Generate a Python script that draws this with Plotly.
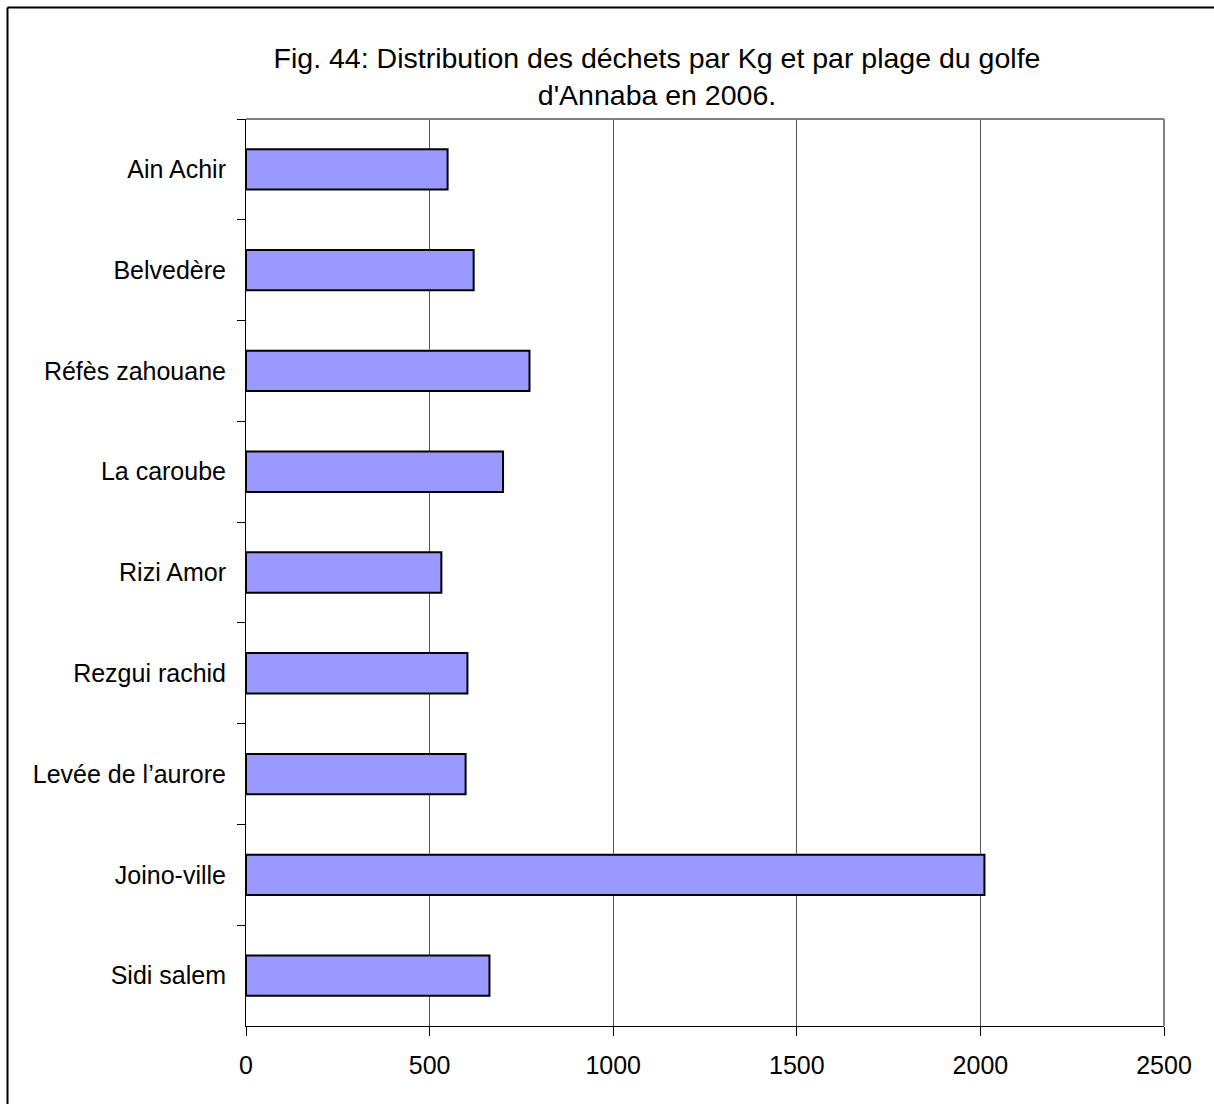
import plotly.graph_objects as go

categories = ["Ain Achir", "Belvedère", "Réfès zahouane", "La caroube", "Rizi Amor",
              "Rezgui rachid", "Levée de l’aurore", "Joino-ville", "Sidi salem"]
values = [549, 620, 772, 700, 532, 603, 598, 2011, 663]
x_ticks = [0, 500, 1000, 1500, 2000, 2500]
title_text = "Fig. 44: Distribution des déchets par Kg et par plage du golfe<br>d'Annaba en 2006."

W, H = 1214, 1104
L, R, T, B = 246, 1214 - 1164, 119, 1104 - 1026
pw, ph = W - L - R, H - T - B

def px(xp):
    return (xp - L) / pw

def py(yp):
    return (H - B - yp) / ph

fig = go.Figure(go.Bar(
    y=categories, x=values, orientation="h",
    marker=dict(color="#9999FF", line=dict(color="#000000", width=2)),
    width=0.4,
))

fig.update_layout(
    width=W, height=H,
    margin=dict(l=L, r=R, t=T, b=B),
    paper_bgcolor="white", plot_bgcolor="white",
    showlegend=False,
    font=dict(family="Liberation Sans, Arial, sans-serif", color="#000000", size=25),
    title=dict(text=title_text, x=px(657), xref="paper", xanchor="center",
               y=1 - 68 / H, yanchor="top",
               font=dict(size=28.5, family="Liberation Sans, Arial, sans-serif")),
    xaxis=dict(range=[0, 2500], tickvals=x_ticks, showgrid=True, gridcolor="#555555",
               gridwidth=1, showline=True, linecolor="#000000", linewidth=1,
               ticks="outside", ticklen=9, tickcolor="#000000", zeroline=False,
               tickfont=dict(size=25), ticklabelstandoff=8),
    yaxis=dict(autorange="reversed", type="category", showline=True, linecolor="#000000",
               linewidth=1, ticks="outside", ticklen=8, tickcolor="#000000",
               tickson="boundaries", showgrid=False, tickfont=dict(size=25),
               ticklabelstandoff=14),
    shapes=[
        dict(type="line", xref="paper", yref="paper", x0=0, x1=1, y0=1, y1=1,
             line=dict(color="#808080", width=2)),
        dict(type="line", xref="paper", yref="paper", x0=1, x1=1, y0=0, y1=1,
             line=dict(color="#808080", width=2)),
        dict(type="line", xref="paper", yref="paper", x0=px(7.5), x1=px(1300),
             y0=py(7.5), y1=py(7.5), line=dict(color="#000000", width=2)),
        dict(type="line", xref="paper", yref="paper", x0=px(7.5), x1=px(7.5),
             y0=py(7.5), y1=py(1200), line=dict(color="#000000", width=2)),
    ],
)

fig.write_html("out.html")
